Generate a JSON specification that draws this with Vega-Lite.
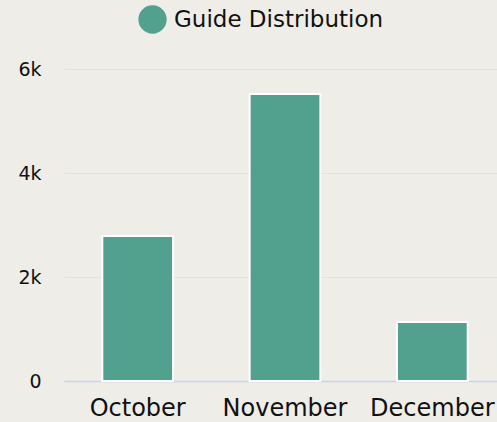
{
  "$schema": "https://vega.github.io/schema/vega-lite/v6.json",
  "autosize": {"type": "none"},
  "width": 442,
  "height": 312,
  "padding": {"left": 64, "top": 69, "right": 0, "bottom": 41},
  "background": "#efede8",
  "config": {
    "font": "DejaVu Sans",
    "view": {"stroke": null}
  },
  "data": {
    "values": [
      {"month": "October", "value": 2790, "series": "Guide Distribution"},
      {"month": "November", "value": 5520, "series": "Guide Distribution"},
      {"month": "December", "value": 1135, "series": "Guide Distribution"}
    ]
  },
  "mark": {"type": "bar", "stroke": "white", "strokeWidth": 2},
  "encoding": {
    "x": {
      "field": "month",
      "type": "nominal",
      "sort": null,
      "scale": {"paddingInner": 0.52, "paddingOuter": 0.26},
      "axis": {
        "title": null,
        "labelAngle": 0,
        "labelFontSize": 24,
        "labelColor": "#111111",
        "labelPadding": 15,
        "labelOverlap": false,
        "labelBound": false,
        "ticks": false,
        "domainColor": "#c8d4ec",
        "domainWidth": 1.5
      }
    },
    "y": {
      "field": "value",
      "type": "quantitative",
      "scale": {"domain": [0, 6000]},
      "axis": {
        "title": null,
        "values": [0, 2000, 4000, 6000],
        "labelExpr": "datum.value === 0 ? '0' : (datum.value / 1000) + 'k'",
        "labelFontSize": 19,
        "labelColor": "#111111",
        "labelPadding": 23,
        "ticks": false,
        "domain": false,
        "gridColor": "#e3e1dc",
        "gridWidth": 1
      }
    },
    "color": {
      "field": "series",
      "type": "nominal",
      "scale": {"range": ["#52a18e"]},
      "legend": {
        "title": null,
        "orient": "none",
        "legendX": 74,
        "legendY": -64,
        "symbolType": "circle",
        "symbolSize": 800,
        "symbolStrokeWidth": 0,
        "labelFontSize": 23,
        "labelLimit": 0,
        "labelColor": "#111111",
        "labelOffset": 7
      }
    }
  }
}
